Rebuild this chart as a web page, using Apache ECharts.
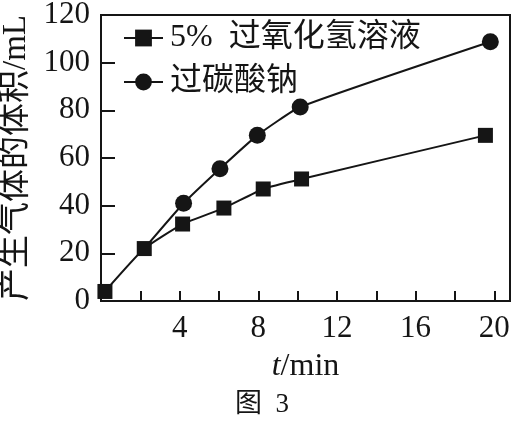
<!DOCTYPE html>
<html>
<head>
<meta charset="utf-8">
<script src="https://cdn.jsdelivr.net/npm/echarts@6/dist/echarts.min.js"></script>
<style>
html,body{margin:0;padding:0;background:#fff;}
#chart{width:519px;height:422px;}
</style>
</head>
<body>
<div id="chart"></div>
<script>
// Data
var seriesNames = ['5%  过氧化氢溶液', '过碳酸钠'];
var h2o2Time = [0.2, 2.2, 4.15, 6.25, 8.25, 10.2, 19.55];
var h2o2Volume = [4, 22, 32.3, 39, 47, 51.2, 69.5];
var percarbTime = [2.2, 4.2, 6.05, 7.95, 10.13, 19.8];
var percarbVolume = [22, 41, 55.5, 69.5, 81.4, 108.8];
var xTickLabels = ['4', '8', '12', '16', '20'];
var yAxisName = '产生气体的体积/mL';
var figCaption = '图  3';

var FONT = '"Liberation Serif", "Times New Roman", "Noto Sans CJK SC", serif';
var INK = '#151515';

function pairs(xs, ys) {
  return xs.map(function (x, i) { return [x, ys[i]]; });
}
var percarbData = pairs(percarbTime, percarbVolume).map(function (p, i) {
  // first point is shared with the other series (drawn as a square there)
  return i === 0 ? { value: p, symbol: 'none' } : p;
});

var chart = echarts.init(document.getElementById('chart'), null, { renderer: 'canvas' });
chart.setOption({
  backgroundColor: '#fff',
  animation: false,
  grid: {
    left: 101, right: 9, top: 15, bottom: 121,
    containLabel: false, outerBoundsMode: 'none',
    show: true, borderColor: INK, borderWidth: 2, backgroundColor: 'transparent'
  },
  legend: {
    orient: 'vertical',
    left: 118, top: 17,
    itemWidth: 39, itemHeight: 21, itemGap: 12,
    textStyle: { fontFamily: FONT, fontSize: 32, color: INK, padding: [0, 0, 0, 2] },
    data: seriesNames
  },
  xAxis: {
    type: 'value', min: 0, max: 20.8, interval: 2,
    name: '{i|t}/min', nameLocation: 'middle', nameGap: 50,
    nameTextStyle: {
      fontFamily: FONT, fontSize: 32, color: INK,
      rich: { i: { fontFamily: FONT, fontSize: 32, fontStyle: 'italic', color: INK } }
    },
    axisLine: { show: true, lineStyle: { color: INK, width: 2 } },
    axisTick: { show: true, inside: true, length: 10, lineStyle: { color: INK, width: 2 } },
    splitLine: { show: false },
    axisLabel: {
      fontFamily: FONT, fontSize: 31, color: INK, margin: 12,
      showMinLabel: true, showMaxLabel: true,
      formatter: function (v) {
        var s = String(v);
        return xTickLabels.indexOf(s) >= 0 ? s : '';
      }
    }
  },
  yAxis: {
    type: 'value', min: 0, max: 120, interval: 20,
    name: yAxisName, nameLocation: 'middle', nameRotate: 90, nameGap: 60,
    nameTextStyle: { fontFamily: FONT, fontSize: 33, color: INK },
    axisLine: { show: true, lineStyle: { color: INK, width: 2 } },
    axisTick: { show: true, inside: true, length: 14, lineStyle: { color: INK, width: 2 } },
    splitLine: { show: false },
    axisLabel: { fontFamily: FONT, fontSize: 31, color: INK, margin: 11 }
  },
  series: [
    {
      name: seriesNames[0], type: 'line', smooth: 0.15,
      symbol: 'rect', symbolSize: 15,
      itemStyle: { color: INK },
      lineStyle: { color: INK, width: 2 },
      data: pairs(h2o2Time, h2o2Volume), z: 3
    },
    {
      name: seriesNames[1], type: 'line', smooth: 0.15,
      symbol: 'circle', symbolSize: 17,
      itemStyle: { color: INK },
      lineStyle: { color: INK, width: 2 },
      data: percarbData, z: 2
    }
  ],
  graphic: [
    {
      type: 'text', left: 235, top: 391,
      style: { text: figCaption, font: '27px ' + FONT, fill: INK }
    }
  ]
});
</script>
</body>
</html>
